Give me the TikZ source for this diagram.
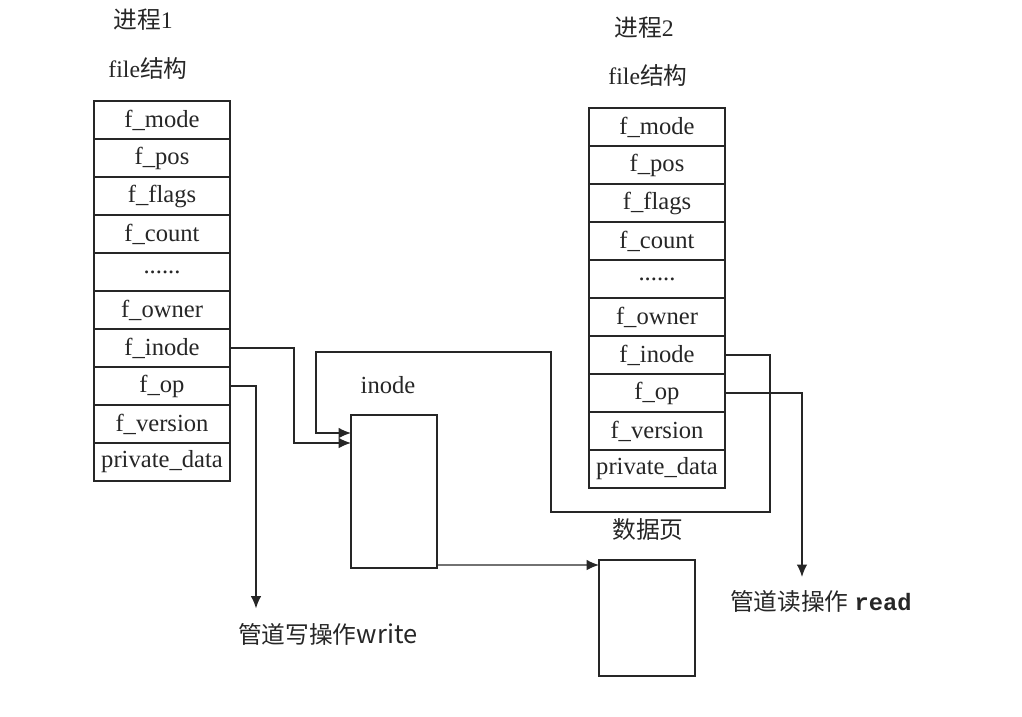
\documentclass[tikz,border=0pt]{standalone}
\usepackage{fontspec}
\setmainfont{Liberation Serif}
\setmonofont{Liberation Mono}
\newfontfamily\cjk{Noto Sans CJK SC}
\usepackage{tikz}
\usetikzlibrary{arrows.meta,positioning}

\newcommand{\tabfont}{\fontsize{14}{16}\selectfont}
\newcommand{\cjkfont}{\fontsize{13.5}{16}\selectfont}
\newcommand{\sixdots}{......}

\tikzset{
  cell/.style={draw, line width=0.9pt, minimum width=2.72cm, minimum height=0.76cm,
    inner sep=0pt, outer sep=0pt, font=\tabfont},
  box/.style={draw, line width=0.9pt, inner sep=0pt, outer sep=0pt},
  lbl/.style={inner sep=1pt, font=\cjkfont},
  conn/.style={line width=0.8pt, -{Latex[length=7pt,width=6pt]}}
}

\begin{document}
\begin{tikzpicture}[x=0.02cm,y=-0.02cm,color=black!85]
\useasboundingbox (0,0) rectangle (1022,717);
% process 1
\node[lbl] (P1) at (143,20) {{\cjk 进程}1};
\node[lbl] (F1) at (148,68) {file{\cjk 结构}};
\foreach \n/\t [count=\i from 0] in {mode/f\_mode, pos/f\_pos, flags/f\_flags, count/f\_count, dots/\sixdots, owner/f\_owner, inode/f\_inode, op/f\_op, version/f\_version, priv/private\_data}
  \node[cell] (L\n) at (162,{120+38*\i}) {\t};
% process 2
\node[lbl] (P2) at (644,28) {{\cjk 进程}2};
\node[lbl] (F2) at (648,75) {file{\cjk 结构}};
\foreach \n/\t [count=\i from 0] in {mode/f\_mode, pos/f\_pos, flags/f\_flags, count/f\_count, dots/\sixdots, owner/f\_owner, inode/f\_inode, op/f\_op, version/f\_version, priv/private\_data}
  \node[cell] (R\n) at (657,{127+38*\i}) {\t};
% inode and data page
\node[lbl,font=\tabfont] (ilbl) at (388,385) {inode};
\node[box, minimum width=1.72cm, minimum height=3.06cm] (inode) at (394,491.5) {};
\node[lbl] (plbl) at (648,530) {\cjk 数据页};
\node[box, minimum width=1.92cm, minimum height=2.32cm] (page) at (647,618) {};
% operations
\node[lbl, anchor=west] (write) at (236,634) {{\cjk 管道写操作}{\cjk\fontsize{14.5}{16}\selectfont write}};
\node[lbl, anchor=west] (read) at (728,601) {{\cjk 管道读操作} {\ttfamily\bfseries\fontsize{13.5}{15}\selectfont read}};
% connectors
\draw[conn] (Linode.east) -- ++(64,0) |- ([yshift=-0.56cm]inode.north west);
\draw[conn] (Rinode.east) -| (770,512) -| (551,352) -- (316,352) |- ([yshift=-0.36cm]inode.north west);
\draw[conn] (Lop.east) -| ([xshift=0.4cm,yshift=0.25cm]write.north west);
\draw[conn] (Rop.east) -| ([xshift=1.48cm,yshift=0.22cm]read.north west);
\draw[conn] ([yshift=0.06cm]inode.south east) -- ([yshift=-0.1cm]page.north west);
\end{tikzpicture}
\end{document}
